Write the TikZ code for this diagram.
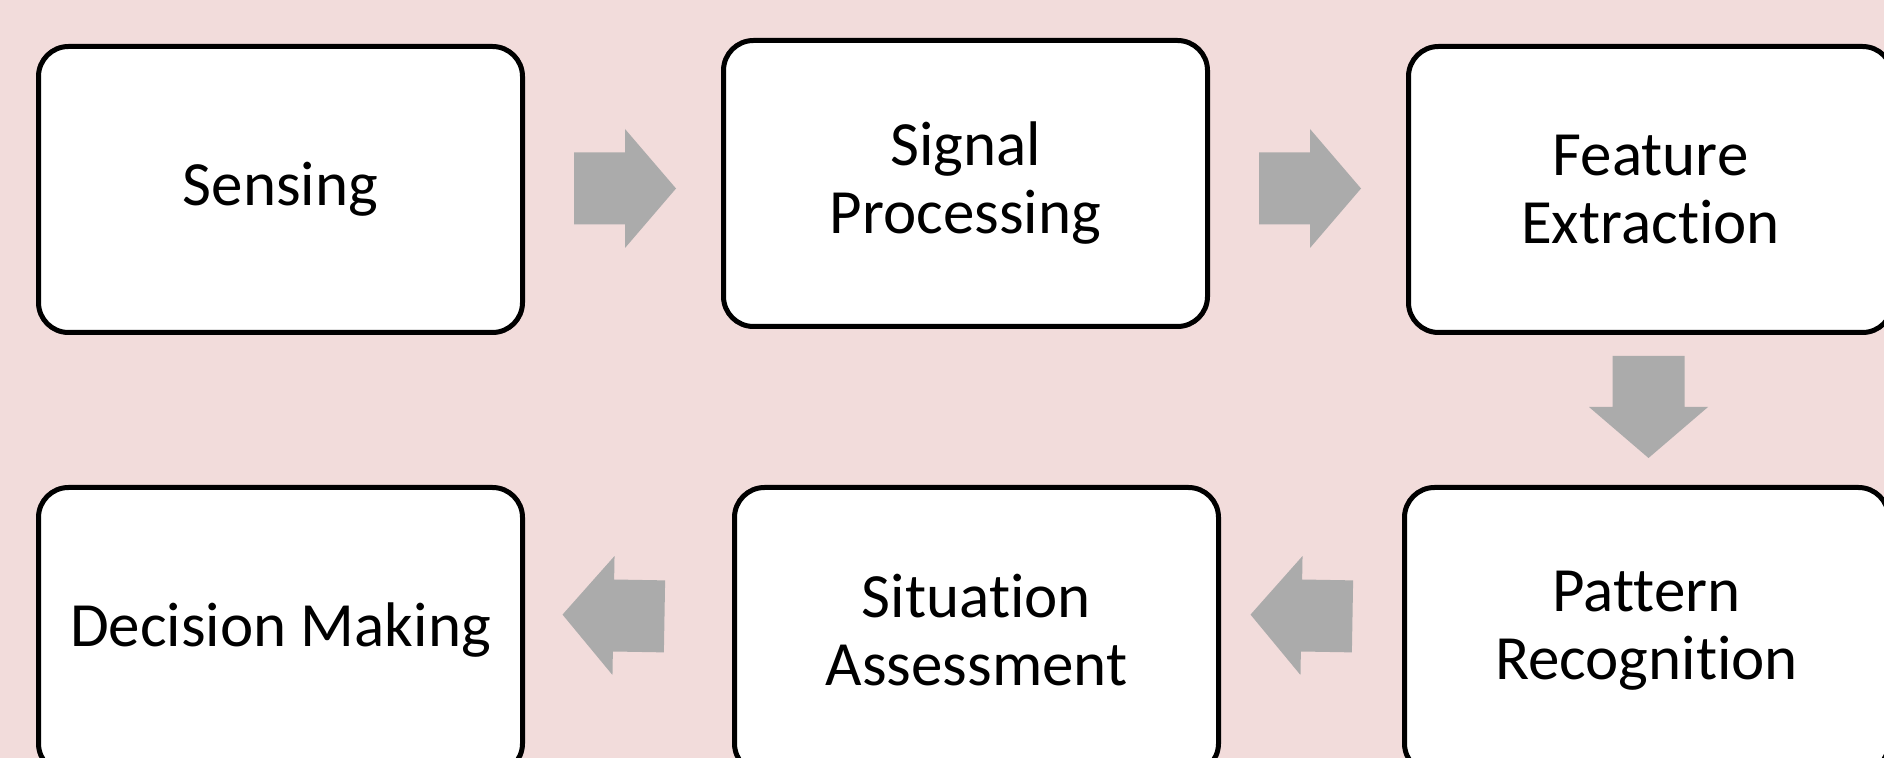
\documentclass[tikz,border=0pt]{standalone}
\usepackage{fontspec}
\setmainfont{Carlito}[Ligatures=NoCommon]
\usetikzlibrary{calc}
\definecolor{slidepink}{RGB}{242,220,219}
\definecolor{arrowgray}{RGB}{171,171,171}

\begin{document}
\begin{tikzpicture}[x=0.5pt,y=-0.5pt,
    stage/.style={draw=black,line width=2.5pt,fill=white,rounded corners=15pt,
        minimum width=242pt,minimum height=143pt,align=center,
        font=\fontsize{31.5}{34}\selectfont},
    blk/.pic={\fill[arrowgray] (-51,-36)--(0,-36)--(0,-59.5)--(51,0)--(0,59.5)--(0,36)--(-51,36)--cycle;}]
                \useasboundingbox (0,0) rectangle (1884,758);
                \fill[slidepink] (0,0) rectangle (1884,758);
                \clip (0,0) rectangle (1884,758);
                \node[stage] (sense) at (280.5,189.5) {Sensing};
                \node[stage] (signal) at (965.5,183.5) {Signal\\Processing};
                \node[stage] (feature) at (1650.5,189.5) {Feature\\Extraction};
                \node[stage] (pattern) at (1646.5,630.5) {Pattern\\Recognition};
                \node[stage] (situation) at (976.5,630.5) {Situation\\Assessment};
                \node[stage] (decision) at (280.5,630.5) {Decision Making};
                \pic at ($(sense.east)!0.5!(signal.west)+(2,2)$) {blk};
                \pic at ($(signal.east)!0.5!(feature.west)+(2,2)$) {blk};
                \pic[rotate=-90] at ($(feature.south)!0.5!(pattern.north)+(0,-3)$) {blk};
                \pic[rotate=179] at ($(pattern.west)!0.5!(situation.east)+(-10,-15)$) {blk};
                \pic[rotate=179] at ($(situation.west)!0.5!(decision.east)+(-15,-15)$) {blk};
            \end{tikzpicture}
\end{document}
